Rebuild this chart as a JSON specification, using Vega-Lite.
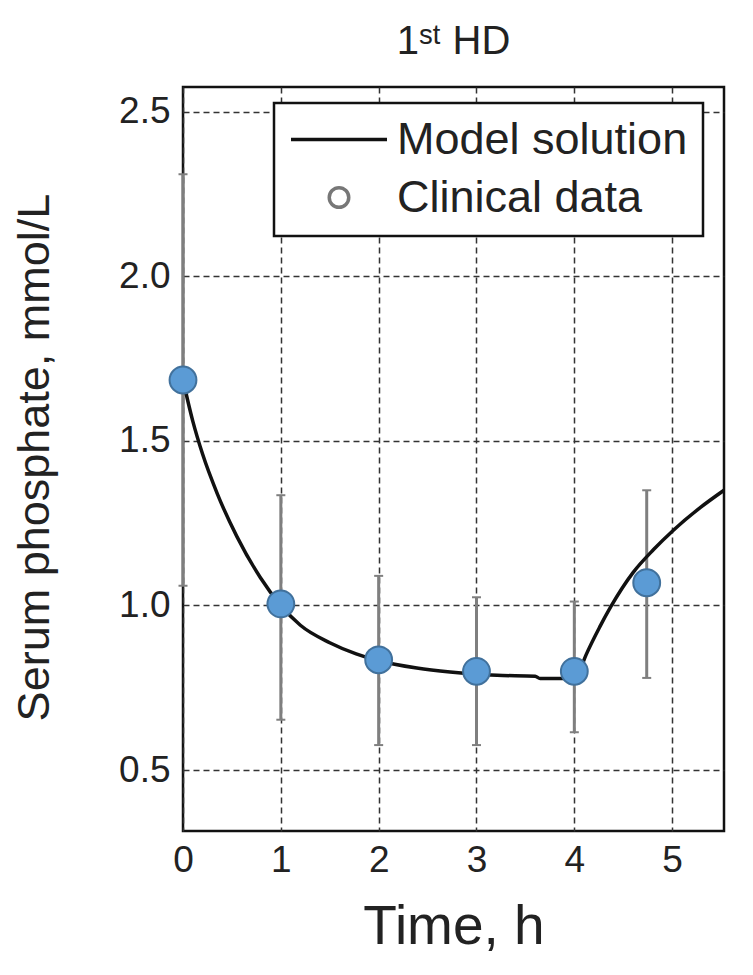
{
  "$schema": "https://vega.github.io/schema/vega-lite/v6.json",
  "width": 541,
  "height": 744,
  "autosize": "none",
  "padding": {"left": 183, "top": 87, "right": 29, "bottom": 144},
  "background": "white",
  "title": {
    "text": "1ˢᵗ HD",
    "font": "Liberation Sans",
    "fontSize": 40,
    "fontWeight": "normal",
    "color": "#222222",
    "anchor": "middle",
    "baseline": "bottom",
    "offset": -15
  },
  "datasets": {
    "model": [
      {"t": 0, "v": 1.685},
      {"t": 0.1, "v": 1.56},
      {"t": 0.2, "v": 1.46},
      {"t": 0.35, "v": 1.34},
      {"t": 0.55, "v": 1.21},
      {"t": 0.79, "v": 1.085},
      {"t": 1.0, "v": 1.0},
      {"t": 1.2, "v": 0.94},
      {"t": 1.5, "v": 0.887},
      {"t": 1.77, "v": 0.853},
      {"t": 2.0, "v": 0.832},
      {"t": 2.39, "v": 0.81},
      {"t": 2.73, "v": 0.798},
      {"t": 3.21, "v": 0.788},
      {"t": 3.6, "v": 0.785},
      {"t": 3.65, "v": 0.778},
      {"t": 4.0, "v": 0.778},
      {"t": 4.05, "v": 0.8},
      {"t": 4.12, "v": 0.85},
      {"t": 4.26, "v": 0.935},
      {"t": 4.37, "v": 0.995},
      {"t": 4.6, "v": 1.1},
      {"t": 4.81, "v": 1.17},
      {"t": 5.01, "v": 1.228},
      {"t": 5.29, "v": 1.298},
      {"t": 5.53, "v": 1.35}
    ],
    "clinical": [
      {"t": 0, "v": 1.685, "lo": 1.06, "hi": 2.31, "series": "Clinical data"},
      {"t": 1, "v": 1.005, "lo": 0.653, "hi": 1.335, "series": "Clinical data"},
      {"t": 2, "v": 0.835, "lo": 0.576, "hi": 1.09, "series": "Clinical data"},
      {"t": 3, "v": 0.8, "lo": 0.576, "hi": 1.025, "series": "Clinical data"},
      {"t": 4, "v": 0.8, "lo": 0.615, "hi": 1.012, "series": "Clinical data"},
      {"t": 4.74, "v": 1.069, "lo": 0.78, "hi": 1.35, "series": "Clinical data"}
    ]
  },
  "encoding": {
    "x": {
      "field": "t",
      "type": "quantitative",
      "scale": {"domain": [0, 5.53], "nice": false, "zero": false},
      "axis": {
        "title": "Time, h",
        "values": [0, 1, 2, 3, 4, 5],
        "format": "d",
        "labelFontSize": 37,
        "labelPadding": 11,
        "labelFlush": false,
        "titleFontSize": 55,
        "titleBaseline": "alphabetic",
        "titleY": 112
      }
    },
    "y": {
      "field": "v",
      "type": "quantitative",
      "scale": {"domain": [0.315, 2.575], "nice": false, "zero": false},
      "axis": {
        "title": "Serum phosphate, mmol/L",
        "values": [0.5, 1.0, 1.5, 2.0, 2.5],
        "format": ".1f",
        "labelFontSize": 37,
        "labelPadding": 13,
        "labelFlush": false,
        "titleFontSize": 45,
        "titleAngle": -90,
        "titleBaseline": "alphabetic",
        "titleAlign": "center",
        "titleX": -135,
        "titleY": 370
      }
    }
  },
  "layer": [
    {
      "data": {"name": "clinical"},
      "mark": {"type": "rule", "color": "#7f7f7f", "strokeWidth": 3},
      "encoding": {
        "y": {"field": "lo", "type": "quantitative"},
        "y2": {"field": "hi"}
      }
    },
    {
      "data": {"name": "clinical"},
      "mark": {"type": "tick", "orient": "horizontal", "color": "#7f7f7f", "thickness": 2, "size": 9, "opacity": 1},
      "encoding": {"y": {"field": "lo", "type": "quantitative"}}
    },
    {
      "data": {"name": "clinical"},
      "mark": {"type": "tick", "orient": "horizontal", "color": "#7f7f7f", "thickness": 2, "size": 9, "opacity": 1},
      "encoding": {"y": {"field": "hi", "type": "quantitative"}}
    },
    {
      "data": {"name": "model"},
      "mark": {"type": "line", "color": "#111111", "strokeWidth": 3.5, "interpolate": "monotone", "clip": true},
      "encoding": {}
    },
    {
      "data": {"name": "clinical"},
      "mark": {"type": "point", "filled": false, "strokeWidth": 3, "opacity": 1},
      "encoding": {
        "color": {
          "field": "series",
          "type": "nominal",
          "scale": {"domain": ["Model solution", "Clinical data"], "range": ["#111111", "#777777"]},
          "legend": {"title": null}
        },
        "shape": {
          "field": "series",
          "type": "nominal",
          "scale": {"domain": ["Model solution", "Clinical data"], "range": ["stroke", "circle"]},
          "legend": {"title": null}
        },
        "size": {
          "field": "series",
          "type": "nominal",
          "scale": {"domain": ["Model solution", "Clinical data"], "range": [9216, 380]},
          "legend": {"title": null}
        }
      }
    },
    {
      "data": {"name": "clinical"},
      "mark": {"type": "point", "filled": true, "fill": "#5B9BD5", "stroke": "#41719C", "strokeWidth": 2, "size": 720, "opacity": 1}
    }
  ],
  "config": {
    "font": "Liberation Sans",
    "view": {"stroke": "#111111", "strokeWidth": 2.5},
    "axis": {
      "domain": false,
      "ticks": false,
      "grid": true,
      "gridColor": "#333333",
      "gridDash": [6, 4],
      "gridWidth": 1.5,
      "gridOpacity": 1,
      "labelFont": "Liberation Sans",
      "labelColor": "#222222",
      "titleFont": "Liberation Sans",
      "titleFontWeight": "normal",
      "titleColor": "#222222"
    },
    "legend": {
      "orient": "none",
      "legendX": 91,
      "legendY": 16,
      "strokeColor": "#111111",
      "strokeWidth": 2.5,
      "fillColor": "white",
      "padding": 15,
      "labelFont": "Liberation Sans",
      "labelFontSize": 45,
      "labelColor": "#222222",
      "labelOffset": 8,
      "labelLimit": 0,
      "symbolStrokeWidth": 3.5,
      "clipHeight": 43,
      "rowPadding": 12,
      "symbolOffset": 0
    }
  }
}
